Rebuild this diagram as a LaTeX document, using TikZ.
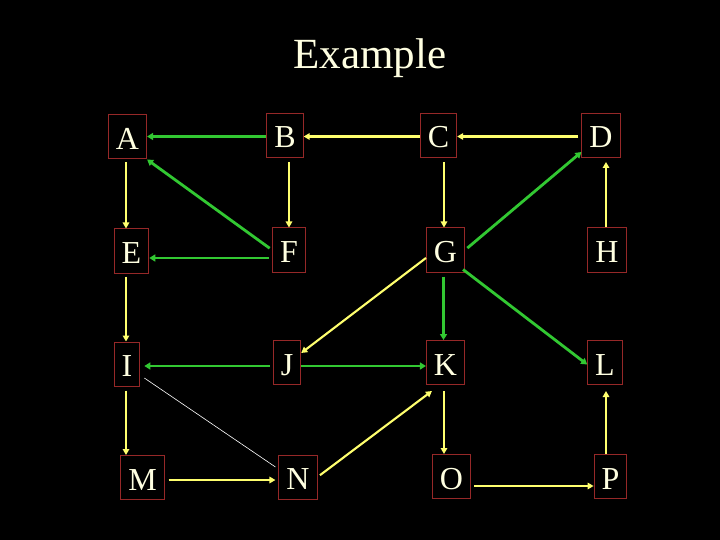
\documentclass[tikz,border=0pt]{standalone}
\usepackage{fontspec}
\setmainfont{Liberation Serif}
\usetikzlibrary{arrows.meta,calc}
\definecolor{boxred}{RGB}{150,40,40}
\definecolor{lgreen}{RGB}{50,200,50}
\definecolor{lyellow}{RGB}{255,255,110}
\definecolor{cream}{RGB}{255,255,225}
\tikzset{
  box/.style={draw=boxred, line width=1pt, text=cream, inner xsep=7.5pt, inner ysep=0pt,
    minimum height=44pt, text height=25pt, text depth=0pt,
    font=\fontsize{32}{36}\selectfont},
  garrow/.style={draw=lgreen, line width=2.8pt, -{Triangle[length=6pt,width=7pt]}},
  yarrow/.style={draw=lyellow, line width=2.1pt, -{Triangle[length=6pt,width=6.5pt]}},
  wline/.style={draw=white, line width=0.6pt}
}
\begin{document}
\begin{tikzpicture}[x=1pt,y=-1pt]
\fill[black] (0,0) rectangle (720,540);
\useasboundingbox (0,0) rectangle (720,540);
\node[text=cream, font=\fontsize{43}{50}\selectfont, anchor=base] (title) at (370,69) {Example};
\node[box] (A) at (127.5,137) {A};
\node[box] (B) at (285,135.5) {B};
\node[box] (C) at (438.5,135.5) {C};
\node[box] (D) at (601,135.5) {D};
\node[box] (E) at (131.5,251) {E};
\node[box] (F) at (289,250) {F};
\node[box] (G) at (445.5,250) {G};
\node[box] (H) at (607,250) {H};
\node[box] (I) at (127,364) {I};
\node[box] (J) at (287,362.5) {J};
\node[box] (K) at (445.5,362.5) {K};
\node[box] (L) at (605,362.5) {L};
\node[box] (M) at (142.5,477.5) {M};
\node[box] (N) at (298,477) {N};
\node[box] (O) at (451.5,476.5) {O};
\node[box] (P) at (610.5,476.5) {P};
% row 1
\draw[garrow] ([yshift=-1pt]B.west) -- ([yshift=-1pt]B.west -| A.east);
\draw[yarrow] ([yshift=-1pt]C.west) -- ([yshift=-1pt]C.west -| B.east);
\draw[yarrow,shorten <=3pt] ([yshift=-1pt]D.west) -- ([yshift=-1pt]D.west -| C.east);
% row 1 -> row 2
\draw[yarrow,shorten <=3pt] ([xshift=-1.5pt]A.south) -- ([xshift=-1.5pt]A.south |- E.north);
\draw[yarrow,shorten <=4pt] (F.north |- B.south) -- (F.north);
\draw[garrow,shorten <=3pt] (F.west) -- (A.south east);
\draw[yarrow,shorten <=4pt] ([xshift=-1.5pt]G.north |- C.south) -- ([xshift=-1.5pt]G.north);
\draw[garrow,shorten <=3pt] (G.east) -- ([yshift=6pt]D.south west);
\draw[yarrow,shorten >=4pt] ([xshift=-1pt]H.north) -- ([xshift=-1pt]H.north |- D.south);
% row 2
\draw[garrow,shorten <=3pt] ([yshift=-8pt]F.west) -- ([yshift=-8pt]F.west -| E.east);
% row 2 -> row 3
\draw[yarrow,shorten <=3pt] ([xshift=-1pt]I.north |- E.south) -- ([xshift=-1pt]I.north);
\draw[yarrow] ([yshift=-8pt]G.west) -- ([yshift=9.5pt]J.east);
\draw[garrow,shorten <=4pt] ([xshift=-2pt]K.north |- G.south) -- ([xshift=-2pt]K.north);
\draw[garrow] ([xshift=-2pt,yshift=3pt]G.south east) -- ([yshift=-2pt]L.west);
% row 3
\draw[garrow,shorten <=3pt,shorten >=4pt] ([yshift=-3.5pt]J.west) -- ([yshift=-3.5pt]J.west -| I.east);
\draw[garrow] ([yshift=-3.5pt]J.east) -- ([yshift=-3.5pt]J.east -| K.west);
% row 3 -> row 4
\draw[yarrow,shorten <=4pt] ([xshift=-1pt]I.south) -- ([xshift=-1pt]I.south |- M.north);
\draw[wline] ([xshift=4pt,yshift=-14pt]I.east) -- ([xshift=-3pt,yshift=10pt]N.west);
\draw[yarrow,shorten <=3pt] (N.east) -- ([xshift=6pt,yshift=-6pt]K.south west);
\draw[yarrow,shorten <=6pt] ([xshift=-1.5pt]K.south) -- ([xshift=-1.5pt]K.south |- O.north);
\draw[yarrow,shorten >=6pt] ([xshift=1pt]L.south |- P.north) -- ([xshift=1pt]L.south);
% row 4
\draw[yarrow,shorten <=4pt,shorten >=3pt] ([yshift=-2.5pt]M.east) -- ([yshift=-2.5pt]M.east -| N.west);
\draw[yarrow,shorten <=3pt] ([yshift=-9.5pt]O.east) -- ([yshift=-9.5pt]O.east -| P.west);
\end{tikzpicture}
\end{document}
